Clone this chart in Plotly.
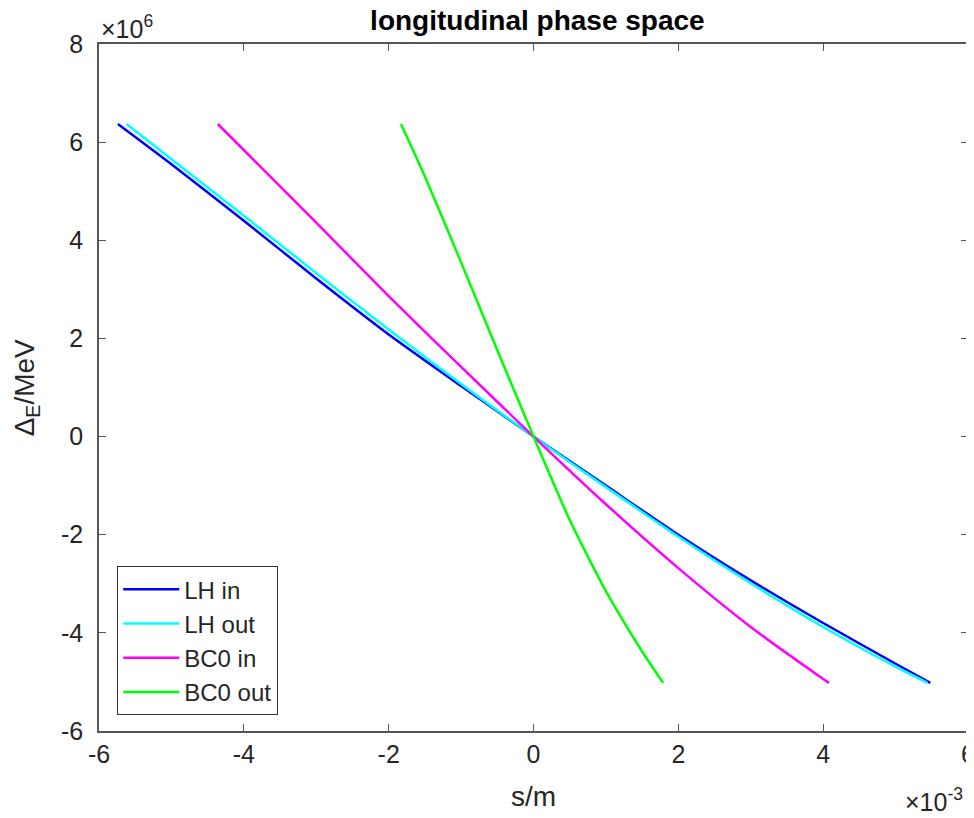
import plotly.graph_objects as go

# values (s in 1e-3 m, dE in 1e6 MeV)
lh_in_s = [-5.74, -5.0, -4.0, -3.0, -2.0, -1.0, 0.0, 1.0, 2.0, 3.0, 4.0, 5.0, 5.48]
lh_in_e = [6.37, 5.55, 4.4, 3.22, 2.08, 1.03, 0.0, -1.0, -2.0, -2.93, -3.8, -4.63, -5.02]

lh_out_s = [-5.62, -5.0, -4.0, -3.0, -2.0, -1.0, 0.0, 1.0, 2.0, 3.0, 4.0, 5.0, 5.44]
lh_out_e = [6.37, 5.65, 4.5, 3.33, 2.18, 1.07, 0.0, -1.03, -2.04, -2.99, -3.88, -4.69, -5.02]

bc0_in_s = [-4.36, -4.0, -3.0, -2.0, -1.0, 0.0, 1.0, 2.0, 3.0, 4.0, 4.08]
bc0_in_e = [6.37, 5.84, 4.36, 2.86, 1.42, 0.0, -1.38, -2.68, -3.88, -4.94, -5.02]

bc0_out_s = [-1.83, -1.5, -1.0, -0.5, 0.0, 0.5, 1.0, 1.5, 1.79]
bc0_out_e = [6.37, 5.3, 3.55, 1.76, 0.0, -1.7, -3.15, -4.38, -5.02]

x_ticks = [-6, -4, -2, 0, 2, 4, 6]
y_ticks = [-6, -4, -2, 0, 2, 4, 6, 8]

series = [
    ("LH in", lh_in_s, lh_in_e, "#0000ff"),
    ("LH out", lh_out_s, lh_out_e, "#00ffff"),
    ("BC0 in", bc0_in_s, bc0_in_e, "#ff00ff"),
    ("BC0 out", bc0_out_s, bc0_out_e, "#00ff00"),
]

fig = go.Figure()
for name, s, e, col in series:
    fig.add_trace(go.Scatter(
        x=s, y=e, mode='lines', name=name,
        line=dict(color=col, width=2.5, shape='spline', smoothing=0.6),
    ))

axis_col = '#555555'
font = dict(family='Arial, Liberation Sans, sans-serif', size=25, color='#262626')

# page body has an 8px margin, so the figure is a bit smaller than the window
fig.update_layout(
    width=966, height=810,
    margin=dict(l=91, r=6, t=36, b=87),
    plot_bgcolor='white', paper_bgcolor='white',
    font=font,
    title=dict(text='<b>longitudinal phase space</b>', x=0.548, xanchor='center',
               yref='container', y=0.997, yanchor='top', pad=dict(t=0),
               font=dict(size=28, color='black')),
    showlegend=True,
    legend=dict(x=0.021, y=0.023, xanchor='left', yanchor='bottom',
                bgcolor='white', bordercolor='#333333', borderwidth=1,
                font=dict(size=24, color='#262626'), tracegroupgap=0, itemwidth=56),
)
fig.update_xaxes(
    range=[-6, 6], tickvals=x_ticks, ticktext=[str(v) for v in x_ticks],
    showgrid=False, zeroline=False, showline=True, linecolor=axis_col, linewidth=1.5,
    mirror='ticks', ticks='inside', ticklen=7, tickcolor=axis_col, automargin=False,
    ticklabeloverflow='allow',
)
fig.update_yaxes(
    range=[-6, 8], tickvals=y_ticks, ticktext=[str(v) for v in y_ticks],
    showgrid=False, zeroline=False, showline=True, linecolor=axis_col, linewidth=1.5,
    mirror='ticks', ticks='inside', ticklen=7, tickcolor=axis_col, ticklabelstandoff=9,
    automargin=False,
)
# axis titles and MATLAB-style exponent labels
fig.add_annotation(text='s/m', xref='paper', yref='paper', x=0.5, y=-0.096,
                   xanchor='center', yanchor='middle', showarrow=False,
                   font=dict(size=28, color='#262626'))
fig.add_annotation(text='Δ<sub>E</sub>/MeV', xref='paper', yref='paper', x=-0.083, y=0.5,
                   xanchor='center', yanchor='middle', textangle=-90, showarrow=False,
                   font=dict(size=28, color='#262626'))
fig.add_annotation(text='×10<sup>6</sup>', xref='paper', yref='paper', x=0.0, y=0.998,
                   xanchor='left', yanchor='bottom', showarrow=False,
                   font=dict(size=25, color='#262626'))
fig.add_annotation(text='×10<sup>-3</sup>', xref='paper', yref='paper', x=0.997, y=-0.127,
                   xanchor='right', yanchor='bottom', showarrow=False,
                   font=dict(size=25, color='#262626'))

fig.write_html('out.html')
